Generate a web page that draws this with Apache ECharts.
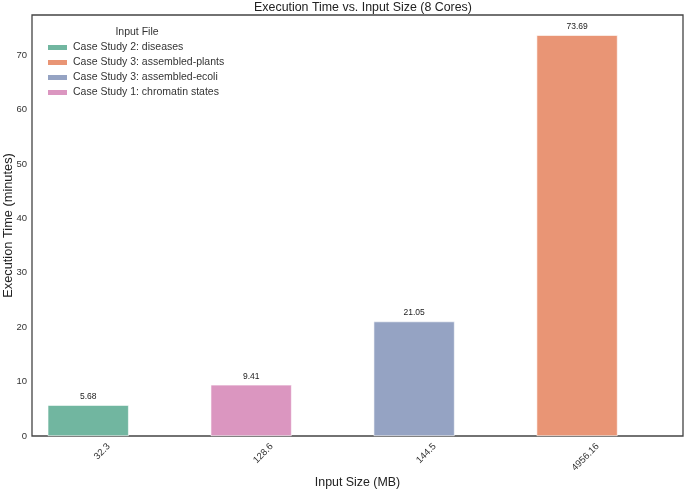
<!DOCTYPE html>
<html>
<head>
<meta charset="utf-8">
<script src="https://cdn.jsdelivr.net/npm/echarts@6/dist/echarts.min.js"></script>
<style>html,body{margin:0;padding:0;background:#fff}#c{width:685px;height:490px}</style>
</head>
<body>
<div id="c"></div>
<script>
// Data
const categories = ['32.3', '128.6', '144.5', '4956.16'];
const execTimes = [5.68, 9.41, 21.05, 73.69];
const inputFiles = ['Case Study 2: diseases', 'Case Study 1: chromatin states', 'Case Study 3: assembled-ecoli', 'Case Study 3: assembled-plants'];
const legendOrder = ['Case Study 2: diseases', 'Case Study 3: assembled-plants', 'Case Study 3: assembled-ecoli', 'Case Study 1: chromatin states'];
const yTicks = [0, 10, 20, 30, 40, 50, 60, 70];

const colors = {
  'Case Study 2: diseases': '#71b6a0',
  'Case Study 3: assembled-plants': '#e99575',
  'Case Study 3: assembled-ecoli': '#95a3c3',
  'Case Study 1: chromatin states': '#db96c0'
};
const FONT = 'Liberation Sans, Arial, sans-serif';
const labelShift = 0.126;

const series = legendOrder.map(name => {
  const i = inputFiles.indexOf(name);
  return {
    name: name,
    type: 'bar',
    stack: 'all',
    barWidth: 81,
    itemStyle: { color: colors[name], borderColor: '#ffffff', borderWidth: 0.6 },
    label: {
      show: true, position: 'top', distance: 4,
      fontFamily: FONT, fontSize: 8.5, color: '#222',
      formatter: p => execTimes[i].toFixed(2)
    },
    data: [[i, execTimes[i]]]
  };
});

const chart = echarts.init(document.getElementById('c'));
chart.setOption({
  animation: false,
  backgroundColor: '#fff',
  title: [
    { text: 'Execution Time vs. Input Size (8 Cores)', left: 358, top: -3, textAlign: 'center',
      textStyle: { fontFamily: FONT, fontSize: 12.4, fontWeight: 'normal', color: '#222' } },
    { text: 'Input File', left: 132, top: 22, textAlign: 'center',
      textStyle: { fontFamily: FONT, fontSize: 10.5, fontWeight: 'normal', color: '#333' } }
  ],
  legend: {
    orient: 'vertical', left: 41, top: 36,
    itemWidth: 21, itemHeight: 7, itemGap: 2,
    icon: 'rect',
    data: legendOrder,
    textStyle: { fontFamily: FONT, fontSize: 10.5, color: '#333', lineHeight: 13 }
  },
  grid: { left: 32, right: 2, top: 15, bottom: 54, show: true, borderColor: '#444', borderWidth: 1.3,
          containLabel: false, outerBoundsMode: 'none' },
  xAxis: {
    type: 'value', min: -0.345, max: 3.65,
    name: 'Input Size (MB)', nameLocation: 'middle', nameGap: 41, nameMoveOverlap: false,
    nameTextStyle: { fontFamily: FONT, fontSize: 12.4, color: '#222' },
    axisLine: { show: false }, axisTick: { show: false }, splitLine: { show: false },
    axisLabel: {
      customValues: categories.map((c, k) => k + labelShift),
      rotate: 45, margin: 9, fontFamily: FONT, fontSize: 9.5, color: '#333',
      formatter: v => categories[Math.round(v - labelShift)]
    }
  },
  yAxis: {
    type: 'value', min: 0, max: 77.4,
    name: 'Execution Time (minutes)', nameLocation: 'middle', nameGap: 17, nameMoveOverlap: false,
    nameTextStyle: { fontFamily: FONT, fontSize: 12.8, color: '#222' },
    axisLine: { show: false }, axisTick: { show: false }, splitLine: { show: false },
    axisLabel: {
      customValues: yTicks,
      margin: 5, fontFamily: FONT, fontSize: 9.5, color: '#333'
    }
  },
  series: series
});
</script>
</body>
</html>
